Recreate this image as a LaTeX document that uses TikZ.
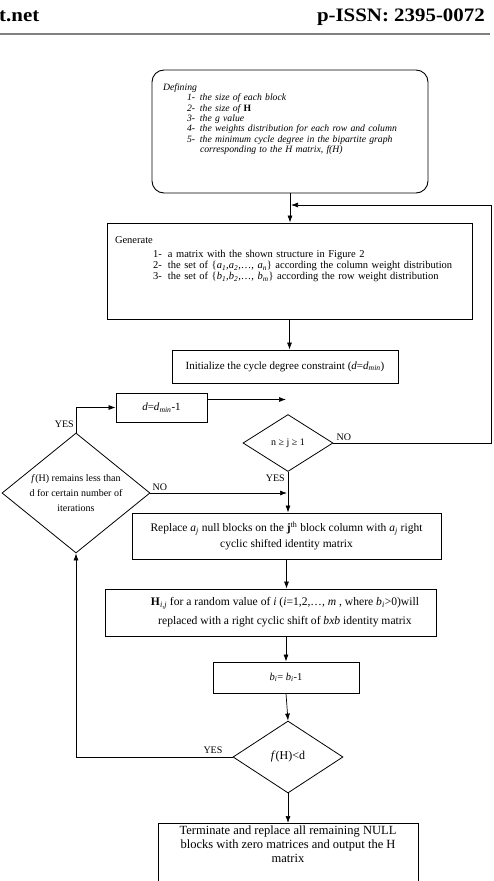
\documentclass[tikz,border=0pt]{standalone}
\usepackage{fontspec}
\setmainfont{Liberation Serif}
\newfontfamily\headfont[FakeStretch=1.1]{Liberation Serif}
\usetikzlibrary{shapes.geometric,arrows.meta,positioning}
\newcommand{\vsub}[2]{\textit{#1}\textsubscript{\textit{#2}}}
\newcommand{\fsz}[2]{\fontsize{#1}{#2}\selectfont}
\newcommand{\itm}[3]{\hspace*{#1}\makebox[#2][l]{#3}}

\begin{document}
\begin{tikzpicture}[x=1pt,y=-1pt,
  box/.style={draw, line width=0.9pt, rectangle, inner sep=2pt},
  decision/.style={draw, line width=0.8pt, diamond, inner sep=0pt},
  flow/.style={line width=0.7pt, -{Latex[length=7pt,width=5pt]}},
  lbl/.style={inner sep=1pt, font=\fsz{10}{11}},
  head/.style={inner sep=0pt, font=\headfont\bfseries\fsz{19}{20}}]
\useasboundingbox (0,0) rectangle (493,881);

\node [head, anchor=base west] (site) at (-1,21) {t.net};
\node [head, anchor=base east] (issn) at (485,21) {p-ISSN: 2395-0072};
\draw [line width=1.5pt, gray] (0,34) -- (490,34);

\node [box, rounded corners=12pt, minimum width=276pt, minimum height=123pt, text width=254pt, align=left, font=\itshape\fsz{9.7}{10.3}] (define) at (290,131.5) {Defining\\
\itm{24pt}{13pt}{1-}the size of each block\\
\itm{24pt}{13pt}{2-}the size of \textbf{\upshape H}\\
\itm{24pt}{13pt}{3-}the g value\\
\itm{24pt}{13pt}{4-}the weights distribution for each row and column\\
\itm{24pt}{13pt}{5-}the minimum cycle degree in the bipartite graph\\
\itm{37pt}{0pt}{}corresponding to the H matrix, f(H)\rule[-27pt]{0pt}{0pt}};
\node [box, minimum width=365pt, minimum height=96pt, text width=349pt, align=left, font=\fsz{10.5}{11}] (generate) at (289.5,271) {Generate\\[3pt]
\itm{38pt}{15pt}{1-}a matrix with the shown structure in Figure 2\\
\itm{38pt}{15pt}{2-}the set of \{\vsub{a}{1},\vsub{a}{2},\ldots, \vsub{a}{n}\} according the column weight distribution\\
\itm{38pt}{15pt}{3-}the set of \{\vsub{b}{1},\vsub{b}{2},\ldots, \vsub{b}{m}\} according the row weight distribution\rule[-25pt]{0pt}{0pt}};
\node [box, minimum width=226pt, minimum height=33pt, font=\fsz{11}{12}] (init) at (285,366.5) {Initialize the cycle degree constraint (\textit{d}=\vsub{d}{min})};
\node [box, minimum width=91pt, minimum height=29pt, font=\fsz{11}{12}] (dbox) at (161.5,407.5) {\textit{d}=\vsub{d}{min}-1};
\node [decision, minimum width=90pt, minimum height=57pt, font=\fsz{10}{11}] (jtest) at (288,443) {n ≥ j ≥ 1};
\node [decision, minimum width=148pt, minimum height=120pt, aspect=1.23, inner sep=-2pt, align=center, font=\fsz{10}{15}] (iter) at (76,493) {\textit{f}(H) remains less than\\d for certain number of\\iterations};
\node [box, minimum width=309pt, minimum height=46pt, align=center, font=\fsz{11.5}{16}] (replace) at (286.5,536) {Replace \vsub{a}{j} null blocks on the \textbf{j}\textsuperscript{th} block column with \vsub{a}{j} right\\cyclic shifted identity matrix};
\node [box, minimum width=331pt, minimum height=47pt, align=center, font=\fsz{11.6}{19}] (hbox) at (270.5,612.5) {\hspace*{29pt}\textbf{H}\textsubscript{\textit{i,j}} for a random value of \textit{i} (\textit{i}=1,2,\ldots, \textit{m} , where \vsub{b}{i}>0)will\\\hspace*{29pt}replaced with a right cyclic shift of \textit{bxb} identity matrix};
\node [box, minimum width=146pt, minimum height=31pt, font=\fsz{10.5}{12}] (bbox) at (286,677.5) {\vsub{b}{i}= \vsub{b}{i}-1};
\node [decision, minimum width=110pt, minimum height=72pt, font=\fsz{12}{13}] (ftest) at (288,757) {\textit{f}(H)<d};
\node [box, anchor=north, minimum width=260pt, align=center, font=\fsz{12.5}{14}] (term) at (288,823) {Terminate and replace all remaining NULL\\blocks with zero matrices and output the H\\matrix\rule[-20pt]{0pt}{0pt}};

\coordinate (dend) at (286,399.5);
\coordinate (loopc) at (491,205);
\coordinate (joint) at (291,205);
\coordinate (merge) at (287,493);

\draw [flow] (define.south) -- (define.south |- generate.north);
\draw [flow] (generate.south) -- (generate.south |- init.north);
\draw [flow] ([yshift=8pt]dbox.east) -- (dend);
\draw [flow] (jtest.east) -| (loopc) -- (joint);
\draw [flow] (jtest.south) -- (jtest.south |- replace.north);
\draw [flow] (iter.east) -- (merge);
\draw [flow] (iter.north) |- (dbox.west);
\draw [flow] (replace.south) -- (replace.south |- hbox.north);
\draw [flow] (bbox.north |- hbox.south) -- (bbox.north);
\draw [flow] (bbox.south) -- (ftest.north);
\draw [flow] (ftest.west) -| (iter.south);
\draw [flow] (ftest.south) -- (term.north);

\node [lbl, above right=1pt and 2pt of jtest.east] (jno) {NO};
\node [lbl, below left=2pt and 2pt of jtest.south] (jyes) {YES};
\node [lbl, above right=1pt and 1pt of iter.east] (ino) {NO};
\node [lbl, above left=4pt and 1pt of iter.north] (iyes) {YES};
\node [lbl, above left=2pt and 9pt of ftest.west] (fyes) {YES};
\end{tikzpicture}
\end{document}
